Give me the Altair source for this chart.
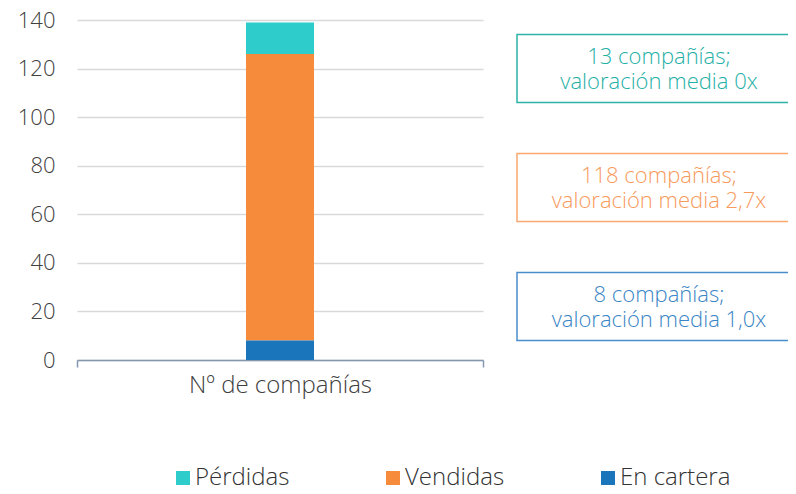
import altair as alt
import pandas as pd

category = ["Nº de compañías"]
series = ["Pérdidas", "Vendidas", "En cartera"]
values = [13, 118, 8]
stack_order = [3, 2, 1]
colors = ["#2ECCCB", "#F68B3B", "#1B75BB"]

box_text = ["13 compañías;\nvaloración media 0x",
            "118 compañías;\nvaloración media 2,7x",
            "8 compañías;\nvaloración media 1,0x"]
box_top = [134, 85, 36]
box_bottom = [106, 57, 8]
box_text_colors = ["#1FB0A6", "#F79A5C", "#3A85C5"]
box_border_colors = ["#2DB3A8", "#F9A870", "#4A8DCA"]

FONT = "Open Sans"

bars = pd.DataFrame({
    "cat": category * len(series),
    "serie": series,
    "valor": values,
    "orden": stack_order,
})
boxes = pd.DataFrame({
    "texto": box_text,
    "top": box_top,
    "bottom": box_bottom,
    "mid": [(a + b) / 2 for a, b in zip(box_top, box_bottom)],
    "tc": box_text_colors,
    "bc": box_border_colors,
})

x_enc = alt.X("cat:N", title=None,
              scale=alt.Scale(paddingInner=0, paddingOuter=0),
              axis=alt.Axis(labelAngle=0, labelFontSize=24, labelColor="#404040",
                            labelFont=FONT, labelFontWeight=300, labelPadding=6,
                            labelLimit=500,
                            domainColor="#8497B0", domainWidth=1.5,
                            ticks=True, tickBand="extent", tickSize=7,
                            tickColor="#8497B0", tickWidth=1.5))

bar = alt.Chart(bars).mark_bar(size=68).encode(
    x=x_enc,
    y=alt.Y("valor:Q", stack="zero", title=None,
            scale=alt.Scale(domain=[0, 140], nice=False),
            axis=alt.Axis(values=[0, 20, 40, 60, 80, 100, 120, 140], domain=False,
                          ticks=False, grid=True, gridColor="#D9D9D9", gridWidth=1.5,
                          labelFontSize=22, labelColor="#404040", labelFont=FONT,
                          labelFontWeight=300, labelPadding=22)),
    color=alt.Color("serie:N", sort=series,
                    scale=alt.Scale(domain=series, range=colors),
                    legend=alt.Legend(title=None, orient="none", direction="horizontal",
                                      columns=3, legendX=94, legendY=446,
                                      symbolType="square", symbolSize=196,
                                      symbolStrokeWidth=0, symbolOpacity=1,
                                      labelFontSize=24, labelColor="#333333",
                                      labelFont=FONT, labelFontWeight=300,
                                      labelOffset=0, columnPadding=91)),
    order=alt.Order("orden:Q"),
)

rects = alt.Chart(boxes).mark_rect(fill="white", strokeWidth=1.5).encode(
    x=alt.value(440),
    x2=alt.value(740),
    y=alt.Y("top:Q"),
    y2="bottom:Q",
    stroke=alt.Stroke("bc:N", scale=None),
)

texts = alt.Chart(boxes).mark_text(fontSize=22, font=FONT, fontWeight=300,
                                   align="center", baseline="middle", dy=-12,
                                   lineBreak="\n", lineHeight=25).encode(
    x=alt.value(582),
    y=alt.Y("mid:Q"),
    text="texto:N",
    color=alt.Color("tc:N", scale=None),
)

chart = alt.layer(bar, rects, texts).properties(
    width=406, height=340,
    autosize=alt.AutoSizeParams(type="none"),
    padding={"left": 69, "top": 12, "right": 305, "bottom": 126},
).configure_view(stroke=None)

chart.save("out.html", embed_options={"renderer": "svg", "actions": False})
